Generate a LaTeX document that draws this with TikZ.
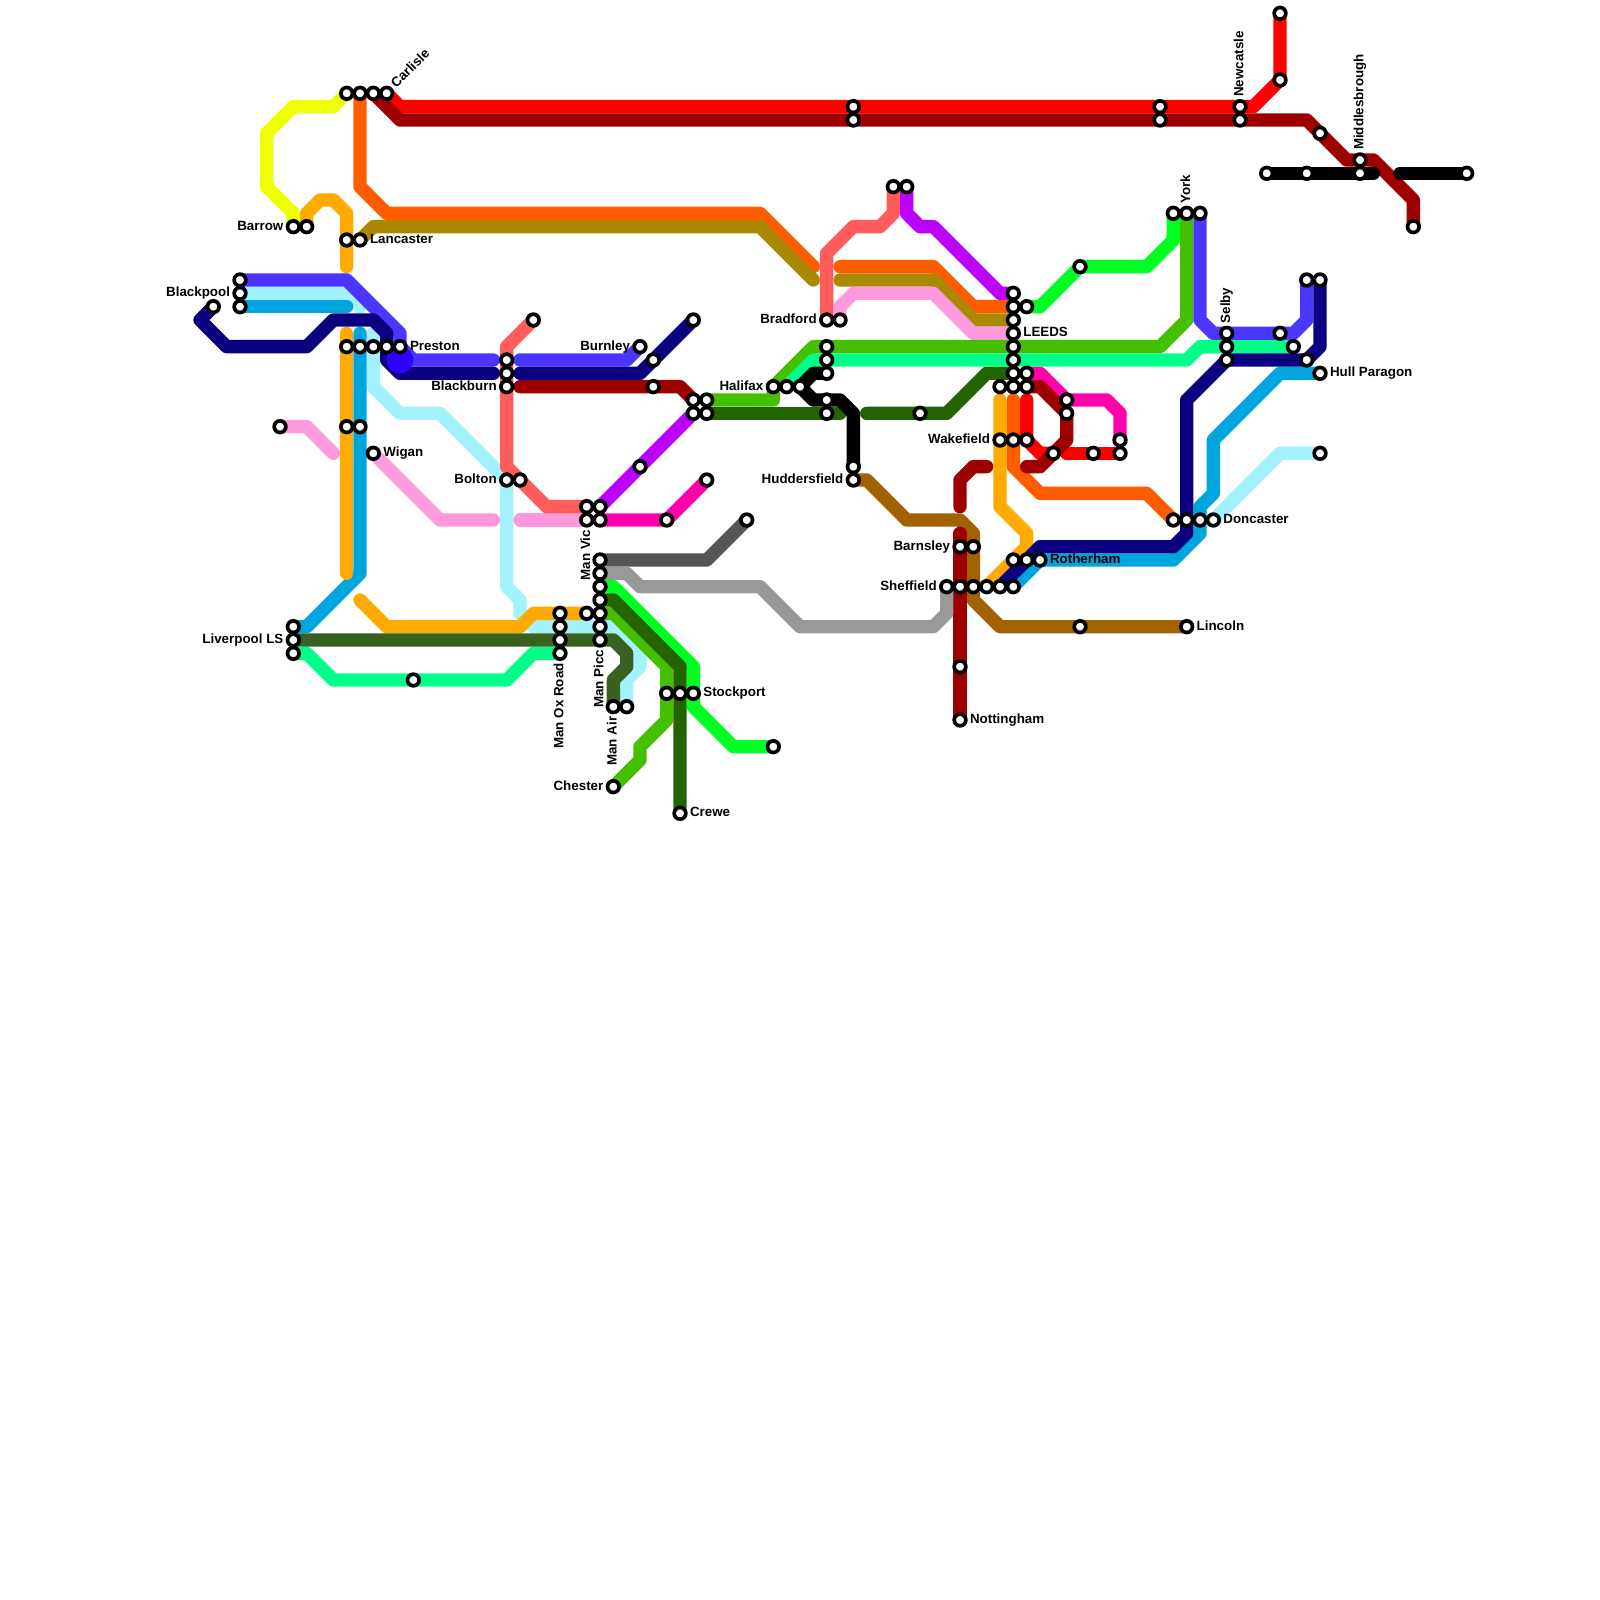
\documentclass[tikz,border=0pt]{standalone}
\usepackage{fontspec}
\setmainfont{Liberation Sans}
\usetikzlibrary{positioning}
\definecolor{redline}{HTML}{FF0000}
\definecolor{maroonline}{HTML}{9E0000}
\definecolor{yellowline}{HTML}{EEFF00}
\definecolor{amberline}{HTML}{FFAA00}
\definecolor{rustline}{HTML}{FF5C00}
\definecolor{goldline}{HTML}{AA8800}
\definecolor{salmonline}{HTML}{FF5C5C}
\definecolor{pinkline}{HTML}{FF99DD}
\definecolor{purpleline}{HTML}{BB00FF}
\definecolor{magentaline}{HTML}{FF00AA}
\definecolor{limeline}{HTML}{00FF22}
\definecolor{grassline}{HTML}{44C000}
\definecolor{forestline}{HTML}{246400}
\definecolor{oliveline}{HTML}{396121}
\definecolor{springline}{HTML}{00FF88}
\definecolor{iceline}{HTML}{A5F2FF}
\definecolor{blueline}{HTML}{4B36FF}
\definecolor{navyline}{HTML}{0A0080}
\definecolor{azureline}{HTML}{00A5DD}
\definecolor{darkgreyline}{HTML}{555555}
\definecolor{greyline}{HTML}{999999}
\definecolor{brownline}{HTML}{A36200}
\definecolor{prestonblob}{HTML}{2E00FF}
\pgfdeclarelayer{lines}
\pgfsetlayers{lines,main}
\begin{document}
\begin{tikzpicture}[
      x=0.2cm, y=-0.2cm,
      stn/.style={
        circle,
        draw=black,
        fill=white,
        line width=0.55mm,
        minimum size=1.75mm,
        inner sep=0pt
      },
      lbl/.style={
        font=\fontsize{5.7}{6}\selectfont\bfseries,
        inner sep=0pt,
        outer sep=0pt,
        text height=4.1pt,
        text depth=1.2pt
      },
      ln/.style={line width=2mm, line cap=round, line join=round, draw=#1}
    ]
      \useasboundingbox (0,0) rectangle (120,120);

      % stations, west side
      \node[stn] (ca) at (26,7) {};
      \node[stn] (cb) at (27,7) {};
      \node[stn] (cc) at (28,7) {};
      \node[stn] (carlisle) at (29,7) {};
      \node[stn] (barrow) at (22,17) {};
      \node[stn] (barrowb) at (23,17) {};
      \node[stn] (lana) at (26,18) {};
      \node[stn] (lancaster) at (27,18) {};
      \node[stn] (blacka) at (18,21) {};
      \node[stn] (blackpool) at (18,22) {};
      \node[stn] (blackc) at (18,23) {};
      \node[stn] (fleet) at (16,23) {};
      \node[stn] (prea) at (26,26) {};
      \node[stn] (preb) at (27,26) {};
      \node[stn] (prec) at (28,26) {};
      \node[stn] (pred) at (29,26) {};
      \node[stn] (preston) at (30,26) {};
      \node[stn] (leyl) at (21,32) {};
      \node[stn] (mida) at (26,32) {};
      \node[stn] (midb) at (27,32) {};
      \node[stn] (wigan) at (28,34) {};
      \node[stn] (liva) at (22,47) {};
      \node[stn] (liverpool) at (22,48) {};
      \node[stn] (livc) at (22,49) {};
      \node[stn] (warr) at (31,51) {};

      % stations, Manchester side
      \node[stn] (bura) at (38,27) {};
      \node[stn] (burb) at (38,28) {};
      \node[stn] (blackburn) at (38,29) {};
      \node[stn] (clith) at (40,24) {};
      \node[stn] (bolton) at (38,36) {};
      \node[stn] (boltonb) at (39,36) {};
      \node[stn] (burnley) at (48,26) {};
      \node[stn] (nelson) at (49,27) {};
      \node[stn] (accr) at (49,29) {};
      \node[stn] (colne) at (52,24) {};
      \node[stn] (heba) at (52,30) {};
      \node[stn] (hebb) at (53,30) {};
      \node[stn] (hebc) at (52,31) {};
      \node[stn] (hebd) at (53,31) {};
      \node[stn] (roch) at (48,35) {};
      \node[stn] (oldh) at (53,36) {};
      \node[stn] (ashton) at (50,39) {};
      \node[stn] (manvic) at (44,38) {};
      \node[stn] (vicb) at (45,38) {};
      \node[stn] (vicc) at (44,39) {};
      \node[stn] (vicd) at (45,39) {};
      \node[stn] (glos) at (56,39) {};
      \node[stn] (pica) at (45,42) {};
      \node[stn] (picb) at (45,43) {};
      \node[stn] (picc) at (45,44) {};
      \node[stn] (picd) at (45,45) {};
      \node[stn] (pice) at (45,46) {};
      \node[stn] (picf) at (45,47) {};
      \node[stn] (manpicc) at (45,48) {};
      \node[stn] (delta) at (44,46) {};
      \node[stn] (oxa) at (42,46) {};
      \node[stn] (oxb) at (42,47) {};
      \node[stn] (oxc) at (42,48) {};
      \node[stn] (manox) at (42,49) {};
      \node[stn] (manair) at (46,53) {};
      \node[stn] (airb) at (47,53) {};
      \node[stn] (stoa) at (50,52) {};
      \node[stn] (stob) at (51,52) {};
      \node[stn] (stockport) at (52,52) {};
      \node[stn] (buxton) at (58,56) {};
      \node[stn] (chester) at (46,59) {};
      \node[stn] (crewe) at (51,61) {};

      % stations, Leeds side
      \node[stn] (halifax) at (58,29) {};
      \node[stn] (halb) at (59,29) {};
      \node[stn] (halc) at (60,29) {};
      \node[stn] (bradford) at (62,24) {};
      \node[stn] (bradb) at (63,24) {};
      \node[stn] (brigb) at (62,26) {};
      \node[stn] (brigc) at (62,27) {};
      \node[stn] (brigd) at (62,28) {};
      \node[stn] (brige) at (62,30) {};
      \node[stn] (brigf) at (62,31) {};
      \node[stn] (tyna) at (64,8) {};
      \node[stn] (tynb) at (64,9) {};
      \node[stn] (ilkl) at (67,14) {};
      \node[stn] (harr) at (68,14) {};
      \node[stn] (hudb) at (64,35) {};
      \node[stn] (huddersfield) at (64,36) {};
      \node[stn] (dews) at (69,31) {};
      \node[stn] (leea) at (76,22) {};
      \node[stn] (leeb) at (76,23) {};
      \node[stn] (leec) at (76,24) {};
      \node[stn] (leeds) at (76,25) {};
      \node[stn] (leee) at (76,26) {};
      \node[stn] (leef) at (76,27) {};
      \node[stn] (leeg) at (76,28) {};
      \node[stn] (leeh) at (76,29) {};
      \node[stn] (leei) at (75,29) {};
      \node[stn] (leej) at (77,23) {};
      \node[stn] (leek) at (77,28) {};
      \node[stn] (leel) at (77,29) {};
      \node[stn] (garf) at (81,20) {};
      \node[stn] (casta) at (80,30) {};
      \node[stn] (castb) at (80,31) {};
      \node[stn] (ponta) at (84,33) {};
      \node[stn] (pontb) at (84,34) {};
      \node[stn] (pontc) at (82,34) {};
      \node[stn] (pontd) at (79,34) {};
      \node[stn] (wakefield) at (75,33) {};
      \node[stn] (wakb) at (76,33) {};
      \node[stn] (wakc) at (77,33) {};
      \node[stn] (barnsley) at (72,41) {};
      \node[stn] (barnb) at (73,41) {};
      \node[stn] (sheffield) at (71,44) {};
      \node[stn] (shefb) at (72,44) {};
      \node[stn] (shefc) at (73,44) {};
      \node[stn] (shefd) at (74,44) {};
      \node[stn] (shefe) at (75,44) {};
      \node[stn] (sheff) at (76,44) {};
      \node[stn] (rota) at (76,42) {};
      \node[stn] (rotb) at (77,42) {};
      \node[stn] (rotherham) at (78,42) {};
      \node[stn] (chest) at (72,50) {};
      \node[stn] (nottingham) at (72,54) {};
      \node[stn] (retf) at (81,47) {};
      \node[stn] (lincoln) at (89,47) {};

      % stations, east side
      \node[stn] (dona) at (88,39) {};
      \node[stn] (donb) at (89,39) {};
      \node[stn] (donc) at (90,39) {};
      \node[stn] (doncaster) at (91,39) {};
      \node[stn] (yora) at (88,16) {};
      \node[stn] (york) at (89,16) {};
      \node[stn] (yorc) at (90,16) {};
      \node[stn] (dara) at (87,8) {};
      \node[stn] (darb) at (87,9) {};
      \node[stn] (newcastle) at (93,8) {};
      \node[stn] (newb) at (93,9) {};
      \node[stn] (edin) at (96,1) {};
      \node[stn] (morp) at (96,6) {};
      \node[stn] (sund) at (99,10) {};
      \node[stn] (middlesbrough) at (102,12) {};
      \node[stn] (midc) at (102,13) {};
      \node[stn] (bisha) at (95,13) {};
      \node[stn] (bishb) at (98,13) {};
      \node[stn] (saltb) at (110,13) {};
      \node[stn] (whitb) at (106,17) {};
      \node[stn] (selby) at (92,25) {};
      \node[stn] (selb) at (92,26) {};
      \node[stn] (selc) at (92,27) {};
      \node[stn] (howa) at (96,25) {};
      \node[stn] (howb) at (97,26) {};
      \node[stn] (howc) at (98,27) {};
      \node[stn] (bevb) at (98,21) {};
      \node[stn] (bevc) at (99,21) {};
      \node[stn] (hull) at (99,28) {};
      \node[stn] (clee) at (99,34) {};

      % labels
      \node[lbl, right=1pt of lancaster] (lancasterlbl) {Lancaster};
      \node[lbl, right=1pt of preston] (prestonlbl) {Preston};
      \node[lbl, right=1pt of wigan] (wiganlbl) {Wigan};
      \node[lbl, right=1pt of stockport] (stockportlbl) {Stockport};
      \node[lbl, right=1pt of crewe] (crewelbl) {Crewe};
      \node[lbl, right=1pt of leeds] (leedslbl) {LEEDS};
      \node[lbl, right=1pt of rotherham] (rotherhamlbl) {Rotherham};
      \node[lbl, right=1pt of nottingham] (nottinghamlbl) {Nottingham};
      \node[lbl, right=1pt of lincoln] (lincolnlbl) {Lincoln};
      \node[lbl, right=1pt of doncaster] (doncasterlbl) {Doncaster};
      \node[lbl, right=1pt of hull] (hulllbl) {Hull Paragon};
      \node[lbl, left=1pt of barrow] (barrowlbl) {Barrow};
      \node[lbl, left=1pt of blackpool] (blackpoollbl) {Blackpool};
      \node[lbl, left=1pt of liverpool] (liverpoollbl) {Liverpool LS};
      \node[lbl, left=1pt of bolton] (boltonlbl) {Bolton};
      \node[lbl, left=1pt of blackburn] (blackburnlbl) {Blackburn};
      \node[lbl, left=1pt of burnley] (burnleylbl) {Burnley};
      \node[lbl, left=1pt of halifax] (halifaxlbl) {Halifax};
      \node[lbl, left=1pt of bradford] (bradfordlbl) {Bradford};
      \node[lbl, left=1pt of huddersfield] (huddersfieldlbl) {Huddersfield};
      \node[lbl, left=1pt of wakefield] (wakefieldlbl) {Wakefield};
      \node[lbl, left=1pt of barnsley] (barnsleylbl) {Barnsley};
      \node[lbl, left=1pt of sheffield] (sheffieldlbl) {Sheffield};
      \node[lbl, left=1pt of chester] (chesterlbl) {Chester};
      \node[lbl, above=1pt of newcastle, rotate=90, anchor=west] (newcastlelbl) {Newcatsle};
      \node[lbl, above=1pt of york, rotate=90, anchor=west] (yorklbl) {York};
      \node[lbl, above=1pt of selby, rotate=90, anchor=west] (selbylbl) {Selby};
      \node[lbl, above=1pt of middlesbrough, rotate=90, anchor=west] (middlesbroughlbl) {Middlesbrough};
      \node[lbl, below=1pt of vicc, rotate=90, anchor=east] (manviclbl) {Man Vic};
      \node[lbl, below=1pt of manox, rotate=90, anchor=east] (manoxlbl) {Man Ox Road};
      \node[lbl, below=1pt of manpicc, rotate=90, anchor=east] (manpicclbl) {Man Picc};
      \node[lbl, below=1pt of manair, rotate=90, anchor=east] (manairlbl) {Man Air};
      \node[lbl, above right=.8pt and .8pt of carlisle, rotate=45, anchor=west] (carlislelbl) {Carlisle};

      \begin{pgfonlayer}{lines}
      % routes
      \draw[ln=yellowline] (ca.center) -- (25,8) -- (22,8) -- (20,10) -- (20,14) -- (22,16) -- (barrow.center);
      \draw[ln=iceline] (blackpool.center) -- (26,22) -- (27,23);
      \draw[ln=iceline] (28,25) -- (28,29) -- (30,31) -- (33,31) -- (38,36) -- (38,44) -- (39,45) -- (39,46);
      \draw[ln=iceline] (40,47) -- (46,47) -- (48,49) -- (48,50) -- (47,51) -- (airb.center);
      \draw[ln=iceline] (doncaster.center) -- (96,34) -- (clee.center);
      \draw[ln=azureline] (blackc.center) -- (26,23);
      \draw[ln=azureline] (27,25) -- (27,43) -- (23,47) -- (liva.center);
      \draw[ln=azureline] (sheff.center) -- (78,42) -- (88,42) -- (90,40) -- (90,38) -- (91,37) -- (91,33) -- (96,28) -- (hull.center);
      \draw[ln=amberline] (barrowb.center) -- (23,16) -- (24,15) -- (25,15) -- (26,16) -- (26,20);
      \draw[ln=amberline] (26,25) -- (26,43);
      \draw[ln=amberline] (27,45) -- (29,47) -- (39,47) -- (40,46) -- (delta.center);
      \draw[ln=amberline] (75,30) -- (75,38) -- (77,40) -- (77,41) -- (shefd.center);
      \draw[ln=rustline] (cb.center) -- (27,14) -- (29,16) -- (57,16) -- (61,20);
      \draw[ln=rustline] (63,20) -- (70,20) -- (73,23) -- (leeb.center);
      \draw[ln=rustline] (76,30) -- (76,35) -- (78,37) -- (86,37) -- (dona.center);
      \draw[ln=goldline] (lancaster.center) -- (28,17) -- (57,17) -- (61,21);
      \draw[ln=goldline] (63,21) -- (70,21) -- (73,24) -- (leec.center);
      \draw[ln=pinkline] (bradb.center) -- (63,23) -- (64,22) -- (70,22) -- (73,25) -- (leeds.center);
      \draw[ln=pinkline] (leyl.center) -- (23,32) -- (25,34);
      \draw[ln=pinkline] (wigan.center) -- (33,39) -- (37,39);
      \draw[ln=pinkline] (39,39) -- (vicc.center);
      \draw[ln=salmonline] (bradford.center) -- (62,19) -- (64,17) -- (66,17) -- (67,16) -- (ilkl.center);
      \draw[ln=salmonline] (clith.center) -- (38,26) -- (38,35) -- (41,38) -- (manvic.center);
      \draw[ln=purpleline] (harr.center) -- (68,16) -- (69,17) -- (70,17) -- (75,22) -- (leea.center);
      \draw[ln=purpleline] (vicb.center) -- (hebc.center);
      \draw[ln=magentaline] (leek.center) -- (78,28) -- (80,30) -- (83,30) -- (84,31) -- (ponta.center);
      \draw[ln=magentaline] (vicd.center) -- (ashton.center) -- (oldh.center);
      \draw[ln=redline] (carlisle.center) -- (30,8) -- (94,8) -- (morp.center) -- (edin.center);
      \draw[ln=redline] (77,30) -- (77,33) -- (78,34) -- (pontd.center);
      \draw[ln=redline] (80,34) -- (pontb.center);
      \draw[ln=maroonline] (cc.center) -- (30,9) -- (98,9) -- (101,12) -- (103,12) -- (106,15) -- (whitb.center);
      \draw[ln=maroonline] (39,29) -- (51,29) -- (heba.center);
      \draw[ln=maroonline] (leel.center) -- (78,29) -- (80,31) -- (80,33) -- (78,35) -- (77,35);
      \draw[ln=brownline] (huddersfield.center) -- (65,36) -- (68,39) -- (72,39) -- (73,40) -- (73,45) -- (75,47) -- (lincoln.center);
      \draw[ln=maroonline] (72,38) -- (72,36) -- (73,35) -- (74,35);
      \draw[ln=maroonline] (72,40) -- (nottingham.center);
      \draw[ln=limeline] (leej.center) -- (78,23) -- (garf.center) -- (86,20) -- (88,18) -- (yora.center);
      \draw[ln=limeline] (picc.center) -- (46,44) -- (52,50) -- (52,53) -- (55,56) -- (buxton.center);
      \draw[ln=grassline] (hebb.center) -- (58,30) -- (halifax.center) -- (61,26) -- (87,26) -- (89,24) -- (york.center);
      \draw[ln=grassline] (pice.center) -- (46,46) -- (50,50) -- (50,54) -- (48,56) -- (48,57) -- (chester.center);
      \draw[ln=forestline] (picd.center) -- (46,45) -- (51,50) -- (crewe.center);
      \draw[ln=forestline] (hebd.center) -- (63,31);
      \draw[ln=forestline] (65,31) -- (71,31) -- (74,28) -- (leeg.center);
      \draw[ln=springline] (livc.center) -- (23,49) -- (25,51) -- (38,51) -- (40,49) -- (manox.center);
      \draw[ln=springline] (halb.center) -- (61,27) -- (89,27) -- (90,26) -- (howb.center);
      \draw[ln=oliveline] (liverpool.center) -- (46,48) -- (47,49) -- (47,50) -- (46,51) -- (manair.center);
      \draw[ln=blueline] (blacka.center) -- (26,21) -- (30,25) -- (preston.center) -- (31,27) -- (37,27);
      \draw[ln=blueline] (39,27) -- (47,27) -- (burnley.center);
      \draw[ln=blueline] (yorc.center) -- (90,24) -- (91,25) -- (97,25) -- (98,24) -- (bevb.center);
      \draw[ln=navyline] (fleet.center) -- (15,24) -- (17,26) -- (23,26) -- (25,24) -- (28,24) -- (29,25) -- (29,27) -- (30,28) -- (37,28);
      \draw[ln=navyline] (39,28) -- (48,28) -- (colne.center);
      \draw[ln=navyline] (shefe.center) -- (78,41) -- (88,41) -- (89,40) -- (89,30) -- (selc.center) -- (98,27) -- (99,26) -- (bevc.center);
      \draw[ln=darkgreyline] (pica.center) -- (53,42) -- (glos.center);
      \draw[ln=greyline] (picb.center) -- (47,43) -- (48,44) -- (57,44) -- (60,47) -- (70,47) -- (71,46) -- (sheffield.center);
      \draw[ln=black] (brigd.center) -- (61,28) -- (halc.center) -- (61,30) -- (63,30) -- (64,31) -- (hudb.center);
      \draw[ln=black] (bisha.center) -- (103,13);
      \draw[ln=black] (105,13) -- (saltb.center);
      \fill[prestonblob] (30,27) circle (0.2cm);
      \end{pgfonlayer}
    \end{tikzpicture}
\end{document}
